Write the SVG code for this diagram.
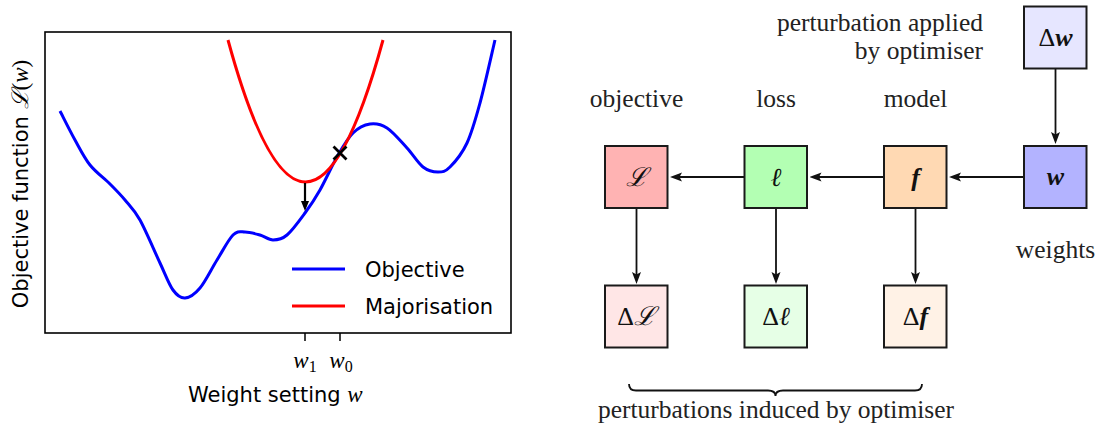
<svg xmlns="http://www.w3.org/2000/svg" width="1096" height="428" viewBox="0 0 1096 428">
<style>
.sans{font-family:"DejaVu Sans",sans-serif;font-size:21px;fill:#000}
.math{font-family:"Liberation Serif","DejaVu Serif",serif;font-style:italic}
.lbl{font-family:"Liberation Serif","DejaVu Serif",serif;font-size:25.5px;fill:#222}
.box{stroke:#1a1a1a;stroke-width:2}
.bt{font-family:"Liberation Serif","DejaVu Serif",serif;font-size:26px;fill:#111;text-anchor:middle}
.conn{stroke:#111;stroke-width:1.8;fill:none;marker-end:url(#ah)}
</style>
<defs>
<marker id="ah" viewBox="0 0 12 10" refX="8" refY="5" markerWidth="12" markerHeight="10" markerUnits="userSpaceOnUse" orient="auto">
<path d="M0,0.5 L12,5 L0,9.5 L2.5,5 z" fill="#111"/>
</marker>
<marker id="ah2" viewBox="0 0 10 8" refX="6" refY="4" markerWidth="11" markerHeight="8" markerUnits="userSpaceOnUse" orient="auto">
<path d="M0,0 L10,4 L0,8 z" fill="#000"/>
</marker>
</defs>
<rect width="1096" height="428" fill="#fff"/>

<!-- Left plot -->
<g id="plot">
<rect x="45" y="32" width="466" height="301" fill="none" stroke="#000" stroke-width="1.6"/>
<path id="objective" fill="none" stroke="#0000ff" stroke-width="3" d="M60,111 C62.5,115.8 70,131 75,140 C80,149 84.2,157.7 90,165 C95.8,172.3 104.2,178.2 110,184 C115.8,189.8 120,194 125,200 C130,206 134.2,209.5 140,220 C145.8,230.5 154.5,251.3 160,263 C165.5,274.7 168.8,284.2 173,290 C177.2,295.8 180.5,298.3 185,298 C189.5,297.7 194.7,294.3 200,288 C205.3,281.7 211.5,268.8 217,260 C222.5,251.2 228.3,239.7 233,235 C237.7,230.3 240.5,232 245,232 C249.5,232 255.3,233.7 260,235 C264.7,236.3 268.5,240 273,240 C277.5,240 281.7,239.5 287,235 C292.3,230.5 299.5,220.5 305,213 C310.5,205.5 314.5,199.7 320,190 C325.5,180.3 332.5,164.5 338,155 C343.5,145.5 347.7,138.2 353,133 C358.3,127.8 364.3,124.8 370,124 C375.7,123.2 380.8,124 387,128 C393.2,132 401,141.5 407,148 C413,154.5 417.8,163 423,167 C428.2,171 433.5,172 438,172 C442.5,172 445.2,171.8 450,167 C454.8,162.2 462,153.7 467,143 C472,132.3 475.3,120.2 480,103 C484.7,85.8 492.5,50.5 495,40"/>
<path id="majorisation" fill="none" stroke="#ff0000" stroke-width="3" d="M228,40 Q305.5,324 383,40"/>
<line x1="305" y1="183" x2="305" y2="207" stroke="#000" stroke-width="2.2" marker-end="url(#ah2)"/>
<path d="M333.5,146.5 L346.5,159.5 M346.5,146.5 L333.5,159.5" stroke="#000" stroke-width="2.8"/>
<path d="M305,333 V341 M340,333 V341" stroke="#000" stroke-width="1.5"/>
<text class="math" x="305" y="368" font-size="23" text-anchor="middle">w<tspan font-size="16" font-style="normal" dy="4">1</tspan></text>
<text class="math" x="341" y="368" font-size="23" text-anchor="middle">w<tspan font-size="16" font-style="normal" dy="4">0</tspan></text>
<text class="sans" x="188" y="402">Weight setting <tspan class="math" font-size="23">w</tspan></text>
<text class="sans" transform="translate(28,184) rotate(-90)" text-anchor="middle">Objective function <tspan class="math" font-size="23">ℒ</tspan><tspan font-family="Liberation Serif,serif" font-size="23">(</tspan><tspan class="math" font-size="23">w</tspan><tspan font-family="Liberation Serif,serif" font-size="23">)</tspan></text>
<line x1="292" y1="269" x2="345" y2="269" stroke="#0000ff" stroke-width="3"/>
<text class="sans" x="365" y="277">Objective</text>
<line x1="292" y1="306" x2="345" y2="306" stroke="#ff0000" stroke-width="3"/>
<text class="sans" x="365" y="314">Majorisation</text>
</g>

<!-- Right diagram -->
<g id="connectors">
<line class="conn" x1="1055.5" y1="69" x2="1055.5" y2="140"/>
<line class="conn" x1="1024" y1="177" x2="953" y2="177"/>
<line class="conn" x1="884" y1="177" x2="813.5" y2="177"/>
<line class="conn" x1="744.5" y1="177" x2="674" y2="177"/>
<line class="conn" x1="636.5" y1="208" x2="636.5" y2="280"/>
<line class="conn" x1="776" y1="208" x2="776" y2="280"/>
<line class="conn" x1="915.5" y1="208" x2="915.5" y2="280"/>
</g>

<g id="node-dw">
<rect class="box" x="1024" y="6.5" width="62.5" height="62" fill="#e6e6ff"/>
<text class="bt" x="1055.5" y="46">Δ<tspan font-weight="bold" font-style="italic">w</tspan></text>
</g>
<g id="node-w">
<rect class="box" x="1024" y="146" width="62.5" height="62" fill="#b3b3ff"/>
<text class="bt" x="1055.5" y="185" font-weight="bold" font-style="italic">w</text>
</g>
<g id="node-f">
<rect class="box" x="884" y="146" width="62.5" height="62" fill="#ffd9b3"/>
<text class="bt" x="915.5" y="186" font-weight="bold" font-style="italic">f</text>
</g>
<g id="node-l">
<rect class="box" x="744.5" y="146" width="62.5" height="62" fill="#b3ffb3"/>
<text class="bt" x="776" y="186" font-style="italic">ℓ</text>
</g>
<g id="node-L">
<rect class="box" x="605" y="146" width="62.5" height="62" fill="#ffb3b3"/>
<text class="bt" x="636.5" y="186" font-style="italic">ℒ</text>
</g>
<g id="node-dL">
<rect class="box" x="605" y="285.5" width="62.5" height="62" fill="#ffe6e6"/>
<text class="bt" x="636.5" y="325">Δ<tspan font-style="italic">ℒ</tspan></text>
</g>
<g id="node-dl">
<rect class="box" x="744.5" y="285.5" width="62.5" height="62" fill="#e6ffe6"/>
<text class="bt" x="776" y="325">Δ<tspan font-style="italic">ℓ</tspan></text>
</g>
<g id="node-df">
<rect class="box" x="884" y="285.5" width="62.5" height="62" fill="#fff2e6"/>
<text class="bt" x="915.5" y="325">Δ<tspan font-weight="bold" font-style="italic">f</tspan></text>
</g>

<g id="labels">
<text class="lbl" x="983" y="31" text-anchor="end">perturbation applied</text>
<text class="lbl" x="983" y="59" text-anchor="end">by optimiser</text>
<text class="lbl" x="636.5" y="107" text-anchor="middle">objective</text>
<text class="lbl" x="776" y="107" text-anchor="middle">loss</text>
<text class="lbl" x="915.5" y="107" text-anchor="middle">model</text>
<text class="lbl" x="1055.5" y="258" text-anchor="middle">weights</text>
<path d="M629,384 Q629,390.5 636,390.5 L768,390.5 Q775.5,390.5 775.5,396 Q775.5,390.5 783,390.5 L915,390.5 Q922,390.5 922,384" fill="none" stroke="#111" stroke-width="1.8"/>
<text class="lbl" x="776" y="418" text-anchor="middle">perturbations induced by optimiser</text>
</g>
</svg>
